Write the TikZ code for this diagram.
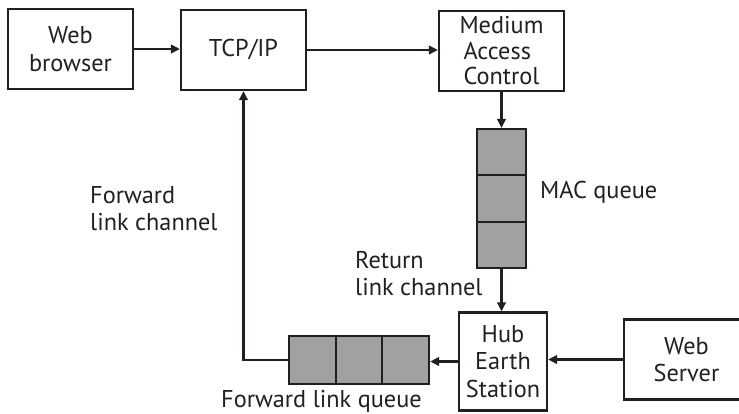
\documentclass[tikz,border=0pt]{standalone}
\usepackage{fontspec}
\setmainfont{PT Sans}
\usetikzlibrary{arrows.meta,calc}
\definecolor{qgray}{RGB}{160,161,163}
\definecolor{ink}{RGB}{35,31,32}
\begin{document}
\begin{tikzpicture}[x=1pt,y=-1pt,
  txt/.style={font=\fontsize{24.3}{27.5}\selectfont, text=ink},
  box/.style={txt, draw=ink, line width=2.2pt, fill=white, minimum width=125pt, minimum height=80pt, inner sep=0pt, align=center},
  cell/.style={draw=ink, line width=2.2pt, fill=qgray, inner sep=0pt},
  conn/.style={draw=ink, line width=2.2pt, -{Triangle[length=9pt,width=8.5pt]}},
  lbl/.style={txt, align=left, inner sep=0pt}]
\useasboundingbox (0,0) rectangle (739,413);
\clip (0,0) rectangle (739,413);
% boxes
\node[box] (wb) at (70.5,49) {Web\\browser};
\node[box] (tcp) at (243.5,50) {TCP/IP};
\node[box, align=left, font=\fontsize{24.3}{25.5}\selectfont] (mac) at (501.5,51) {Medium\\\hspace*{4pt}Access\\\hspace*{4pt}Control};
\node[cell, minimum width=49pt, minimum height=46.3pt] (m1) at (501.5,152.2) {};
\node[cell, minimum width=49pt, minimum height=46.3pt] (m2) at (501.5,198.5) {};
\node[cell, minimum width=49pt, minimum height=46.3pt] (m3) at (501.5,244.8) {};
\node[box, minimum width=88pt, minimum height=98pt] (hub) at (503,361.5) {Hub\\Earth\\Station};
\node[box] (ws) at (686.5,359.5) {Web\\Server};
\node[cell, minimum width=46.7pt, minimum height=48pt] (f1) at (312.3,360) {};
\node[cell, minimum width=46.7pt, minimum height=48pt] (f2) at (359,360) {};
\node[cell, minimum width=46.7pt, minimum height=48pt] (f3) at (405.7,360) {};
% labels
\node[lbl, anchor=west] (macl) at (540,192) {MAC queue};
\node[lbl, anchor=north west] (ret) at (355,251) {Return\\link channel};
\node[lbl, anchor=north west] (fwd) at (90,186) {Forward\\link channel};
\node[lbl, anchor=west] (fql) at (221,401) {Forward link queue};
% connectors
\draw[conn] (wb.east) -- (wb.east -| tcp.west);
\draw[conn] (tcp.east) -- (tcp.east -| mac.west);
\draw[conn] (mac.south) -- (m1.north);
\draw[conn] (m3.south) -- (m3.south |- hub.north);
\draw[conn] (ws.west) -- (ws.west -| hub.east);
\draw[conn] (hub.west) -- (hub.west -| f3.east);
\draw[conn] (f1.west) -| (tcp.south);
\end{tikzpicture}
\end{document}
